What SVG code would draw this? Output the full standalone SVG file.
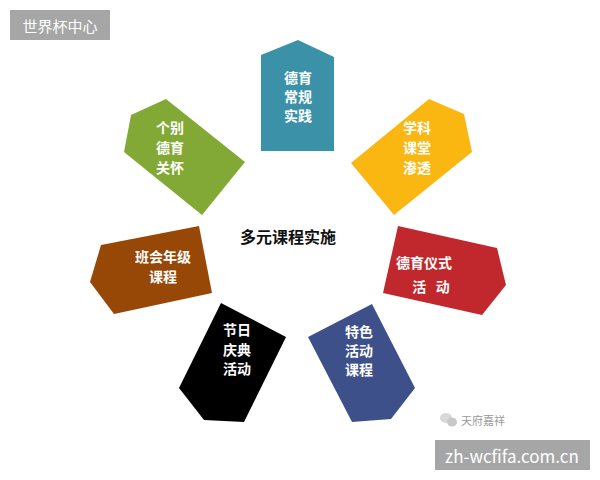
<svg xmlns="http://www.w3.org/2000/svg" width="600" height="480" viewBox="0 0 600 480">
<style>
.lbl{font-family:"Noto Sans CJK SC","Noto Sans",sans-serif;font-weight:bold;font-size:14px;fill:#ffffff;text-anchor:middle;dominant-baseline:central}
.title{font-family:"Noto Sans CJK SC","Noto Sans",sans-serif;font-weight:bold;font-size:16px;fill:#111;text-anchor:middle;dominant-baseline:central}
.badge{font-family:"Noto Sans CJK SC","Liberation Sans",sans-serif;fill:#fff;dominant-baseline:central}
</style>
<rect width="600" height="480" fill="#ffffff"/>
<g id="badge-top">
<rect x="10" y="10" width="100" height="30" fill="#a6a6a6"/>
<text class="badge" x="60" y="25.5" font-size="15" text-anchor="middle">世界杯中心</text>
</g>
<g id="node-teal">
<polygon points="261,55 298,40 334,57 334,151 261,151" fill="#3a91a8"/>
<text class="lbl" x="298" y="77">德育</text>
<text class="lbl" x="298" y="96">常规</text>
<text class="lbl" x="298" y="115">实践</text>
</g>
<g id="node-green">
<polygon points="131,115 166,99 245,162 202,215 124,152" fill="#82a935"/>
<text class="lbl" x="170" y="127">个别</text>
<text class="lbl" x="170" y="147">德育</text>
<text class="lbl" x="170" y="167">关怀</text>
</g>
<g id="node-yellow">
<polygon points="351,163 429,99 464,114 472,152 394,215" fill="#fab711"/>
<text class="lbl" x="417" y="127">学科</text>
<text class="lbl" x="417" y="147">课堂</text>
<text class="lbl" x="417" y="167">渗透</text>
</g>
<g id="node-brown">
<polygon points="101,245 199,226 212,293 114,314 90,282" fill="#974807"/>
<text class="lbl" x="163" y="256">班会年级</text>
<text class="lbl" x="163" y="276">课程</text>
</g>
<g id="node-red">
<polygon points="398,226 497,248 506,285 482,315 383,293" fill="#c0282d"/>
<text class="lbl" x="424" y="262">德育仪式</text>
<text class="lbl" x="431" y="286" xml:space="preserve">活   动</text>
</g>
<g id="node-black">
<polygon points="221,303 286,337 244,422 204,420 179,388" fill="#000000"/>
<text class="lbl" x="237" y="329">节日</text>
<text class="lbl" x="237" y="349">庆典</text>
<text class="lbl" x="237" y="368">活动</text>
</g>
<g id="node-blue">
<polygon points="372,304 415,388 391,419 352,422 308,337" fill="#3e5089"/>
<text class="lbl" x="359" y="331">特色</text>
<text class="lbl" x="359" y="350">活动</text>
<text class="lbl" x="359" y="369">课程</text>
</g>
<g id="center">
<text class="title" x="288" y="236">多元课程实施</text>
</g>
<g id="connectors"></g>
<g id="watermark">
<ellipse cx="446" cy="418" rx="6" ry="5" fill="#d8d8d8"/>
<ellipse cx="452" cy="422" rx="5" ry="4.5" fill="#c8c8c8"/>
<text x="461" y="420" font-family="Noto Sans CJK SC,sans-serif" font-size="11" fill="#999" dominant-baseline="central">天府嘉祥</text>
</g>
<g id="badge-bottom">
<rect x="435" y="440" width="155" height="30" fill="#a6a6a6"/>
<text class="badge" x="512" y="455.5" font-size="17" text-anchor="middle" font-family="DejaVu Sans,sans-serif">zh-wcfifa.com.cn</text>
</g>
</svg>
